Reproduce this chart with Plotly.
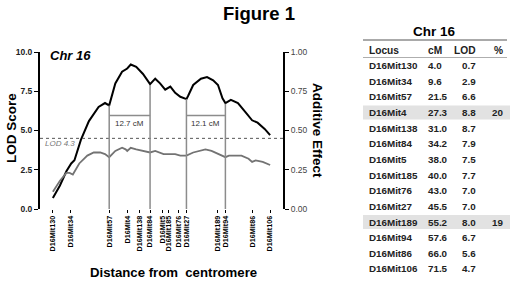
import plotly.graph_objects as go

# ---------------- data ----------------
marker_names = ["D16Mit130", "D16Mit34", "D16Mit57", "D16Mit4", "D16Mit138", "D16Mit84", "D16Mit5",
                "D16Mit185", "D16Mit76", "D16Mit27", "D16Mit189", "D16Mit94", "D16Mit86", "D16Mit106"]
marker_cm = [4.0, 9.6, 21.5, 27.3, 31.0, 34.2, 38.0, 40.0, 43.0, 45.5, 55.2, 57.6, 66.0, 71.5]
marker_lod = [0.7, 2.9, 6.6, 8.8, 8.7, 7.9, 7.5, 7.7, 7.0, 7.0, 8.0, 6.7, 5.6, 4.7]
marker_pct = ["", "", "", "20", "", "", "", "", "", "", "19", "", "", ""]
highlight_rows = ["D16Mit4", "D16Mit189"]

lod_cm = [4.0, 6.2, 8.2, 9.7, 10.7, 12.7, 15.2, 18.2, 20.2, 21.5, 23.4, 25.5, 27.1, 28.2, 29.9,
          32.0, 34.2, 35.8, 37.3, 38.9, 40.5, 42.0, 43.6, 45.5, 46.0, 47.6, 50.0, 51.9, 53.8,
          55.3, 56.7, 57.6, 59.3, 61.5, 63.7, 65.9, 67.6, 69.8, 71.5]
lod_val = [0.7, 1.5, 2.4, 2.9, 3.1, 4.4, 5.6, 6.5, 6.75, 6.6, 8.0, 8.75, 8.95, 9.2, 9.05,
           8.6, 7.95, 8.3, 8.0, 7.6, 7.8, 7.4, 7.15, 7.0, 7.2, 7.9, 8.3, 8.4, 8.2,
           7.9, 7.05, 6.75, 6.95, 6.75, 6.2, 5.65, 5.5, 5.1, 4.7]

add_cm = [4.0, 6.2, 8.2, 9.2, 10.2, 12.2, 14.7, 16.7, 18.7, 20.2, 21.5, 23.4, 25.5, 26.6, 27.1,
          28.2, 29.9, 32.0, 34.2, 35.8, 38.4, 39.5, 42.0, 43.6, 45.5, 47.6, 49.5, 51.4, 53.3,
          55.7, 57.6, 58.7, 62.6, 64.8, 65.9, 67.0, 69.2, 71.5]
add_val = [0.11, 0.18, 0.23, 0.23, 0.22, 0.29, 0.34, 0.36, 0.36, 0.35, 0.33, 0.37, 0.39, 0.38, 0.37,
           0.39, 0.38, 0.37, 0.36, 0.37, 0.35, 0.35, 0.35, 0.34, 0.34, 0.36, 0.37, 0.38, 0.37,
           0.35, 0.33, 0.34, 0.34, 0.32, 0.30, 0.31, 0.30, 0.28]

threshold = 4.5
threshold_label = "LOD 4.3"
intervals = [("D16Mit57", "D16Mit84", "12.7 cM"), ("D16Mit27", "D16Mit94", "12.1 cM")]

# ---------------- layout constants ----------------
W, H = 520, 281
L, R, T, B = 40, 237, 52, 72
PW, PH = W - L - R, H - T - B
FONT = "Liberation Sans, Arial, sans-serif"


def px(x, y):
    return (x - L) / PW, (H - B - y) / PH


fig = go.Figure()
fig.add_trace(go.Scatter(x=add_cm, y=add_val, yaxis="y2", mode="lines",
                         line=dict(color="#737373", width=1.8), hoverinfo="skip"))
fig.add_trace(go.Scatter(x=lod_cm, y=lod_val, mode="lines",
                         line=dict(color="black", width=2), hoverinfo="skip"))

shapes = []
annotations = []


def note(text, x, y, xref="paper", yref="paper", xanchor="center", yanchor="middle", angle=0, **font):
    f = dict(family=FONT)
    f.update(font)
    annotations.append(dict(text=text, x=x, y=y, xref=xref, yref=yref, xanchor=xanchor,
                            yanchor=yanchor, textangle=angle, showarrow=False, font=f))


# threshold line
shapes.append(dict(type="line", xref="paper", yref="y", x0=0, x1=1, y0=threshold, y1=threshold,
                   line=dict(color="#555555", width=1, dash="dot")))
note(threshold_label, 1.0, threshold - 0.35, "x", "y", xanchor="left", size=8, color="#777777",
     style="italic")

# interval lines and brackets
cm_of = dict(zip(marker_names, marker_cm))
lod_of = dict(zip(marker_names, marker_lod))
for a, b, lab in intervals:
    for m in (a, b):
        shapes.append(dict(type="line", xref="x", yref="y", x0=cm_of[m], x1=cm_of[m], y0=0, y1=lod_of[m],
                           line=dict(color="#8c8c8c", width=1.5)))
    shapes.append(dict(type="line", xref="x", yref="y", x0=cm_of[a], x1=cm_of[b], y0=5.95, y1=5.95,
                       line=dict(color="#8c8c8c", width=1.5)))
    note(lab, (cm_of[a] + cm_of[b]) / 2, 5.45, "x", "y", size=8, color="#333333")

note("Chr 16", 2.6, 9.75, "x", "y", xanchor="left", size=13, color="black", weight="bold",
     style="italic")

# titles
note("Figure 1", *px(259, 13), size=18.5, color="black", weight="bold")
note("LOD Score", *px(11, 128), angle=-90, size=13.5, color="black", weight="bold")
note("Additive Effect", *px(318, 130), angle=90, size=13.5, color="black", weight="bold")
note("Distance from\u00a0 centromere", *px(173, 272), size=13.2, color="black", weight="bold")

# ---------------- table ----------------
tf = dict(size=9.8, color="#222222", weight="bold")
note("Chr 16", *px(434, 31), size=13.5, color="black", weight="bold")
x0p, y0p = px(363, 40)
x1p, _ = px(507, 40)
shapes.append(dict(type="line", xref="paper", yref="paper", x0=x0p, x1=x1p, y0=y0p, y1=y0p,
                   line=dict(color="#555555", width=1)))
_, yhp = px(0, 57.5)
shapes.append(dict(type="line", xref="paper", yref="paper", x0=x0p, x1=x1p, y0=yhp, y1=yhp,
                   line=dict(color="#999999", width=0.8)))

col_locus, col_cm, col_lod, col_pct = 367, 426, 478, 505


def cell(text, x, y, anchor, **extra):
    f = dict(tf)
    f.update(extra)
    note(text, *px(x, y), xanchor=anchor, **f)


hy = 50
cell("Locus", col_locus, hy, "left", size=10.2)
cell("cM", col_cm, hy, "left", size=10.2)
cell("LOD", col_lod, hy, "right", size=10.2)
cell("%", col_pct, hy, "right", size=10.2)

row0, dy = 65.5, 15.65
for i, name in enumerate(marker_names):
    y = row0 + i * dy
    if name in highlight_rows:
        xa, ya = px(363, y - 7)
        xb, yb = px(510, y + 7)
        shapes.append(dict(type="rect", xref="paper", yref="paper", x0=xa, x1=xb, y0=ya, y1=yb,
                           fillcolor="#e2e2e2", line=dict(width=0), layer="below"))
    cell(name, col_locus, y, "left")
    cell(f"{marker_cm[i]:.1f}", col_cm, y, "left")
    cell(f"{marker_lod[i]:.1f}", col_lod, y, "right")
    if marker_pct[i]:
        cell(marker_pct[i], col_pct, y, "right")

fig.update_layout(
    width=W, height=H, margin=dict(l=L, r=R, t=T, b=B, autoexpand=False),
    paper_bgcolor="white", plot_bgcolor="white", showlegend=False,
    shapes=shapes, annotations=annotations,
    xaxis=dict(range=[0, 75.5], tickmode="array", tickvals=marker_cm, ticktext=marker_names,
               tickangle=-90, ticks="outside", ticklen=3, tickcolor="black", showline=False,
               showgrid=False, zeroline=False, automargin=False,
               tickfont=dict(family=FONT, size=7.2, color="black", weight="bold")),
    yaxis=dict(range=[0, 10], tickmode="array", tickvals=[0, 2.5, 5, 7.5, 10],
               ticktext=["0.0", "2.5", "5.0", "7.5", "10.0"], ticks="outside", ticklen=4,
               tickcolor="black", showline=True, linecolor="black", linewidth=2, showgrid=False,
               zeroline=False, automargin=False,
               tickfont=dict(family=FONT, size=8.5, color="#222222", weight="bold")),
    yaxis2=dict(range=[0, 1], overlaying="y", side="right", anchor="x", tickmode="array",
                tickvals=[0, 0.25, 0.5, 0.75, 1.0], ticktext=["0.00", "0.25", "0.50", "0.75", "1.00"],
                ticks="outside", ticklen=4, tickcolor="black", showline=True, linecolor="black",
                linewidth=2, showgrid=False, zeroline=False, automargin=False,
                tickfont=dict(family=FONT, size=8.5, color="#444444")),
)

fig.write_html("out.html", config={"displayModeBar": False},
               post_script="document.body.style.margin='0';document.body.style.overflow='hidden';")
